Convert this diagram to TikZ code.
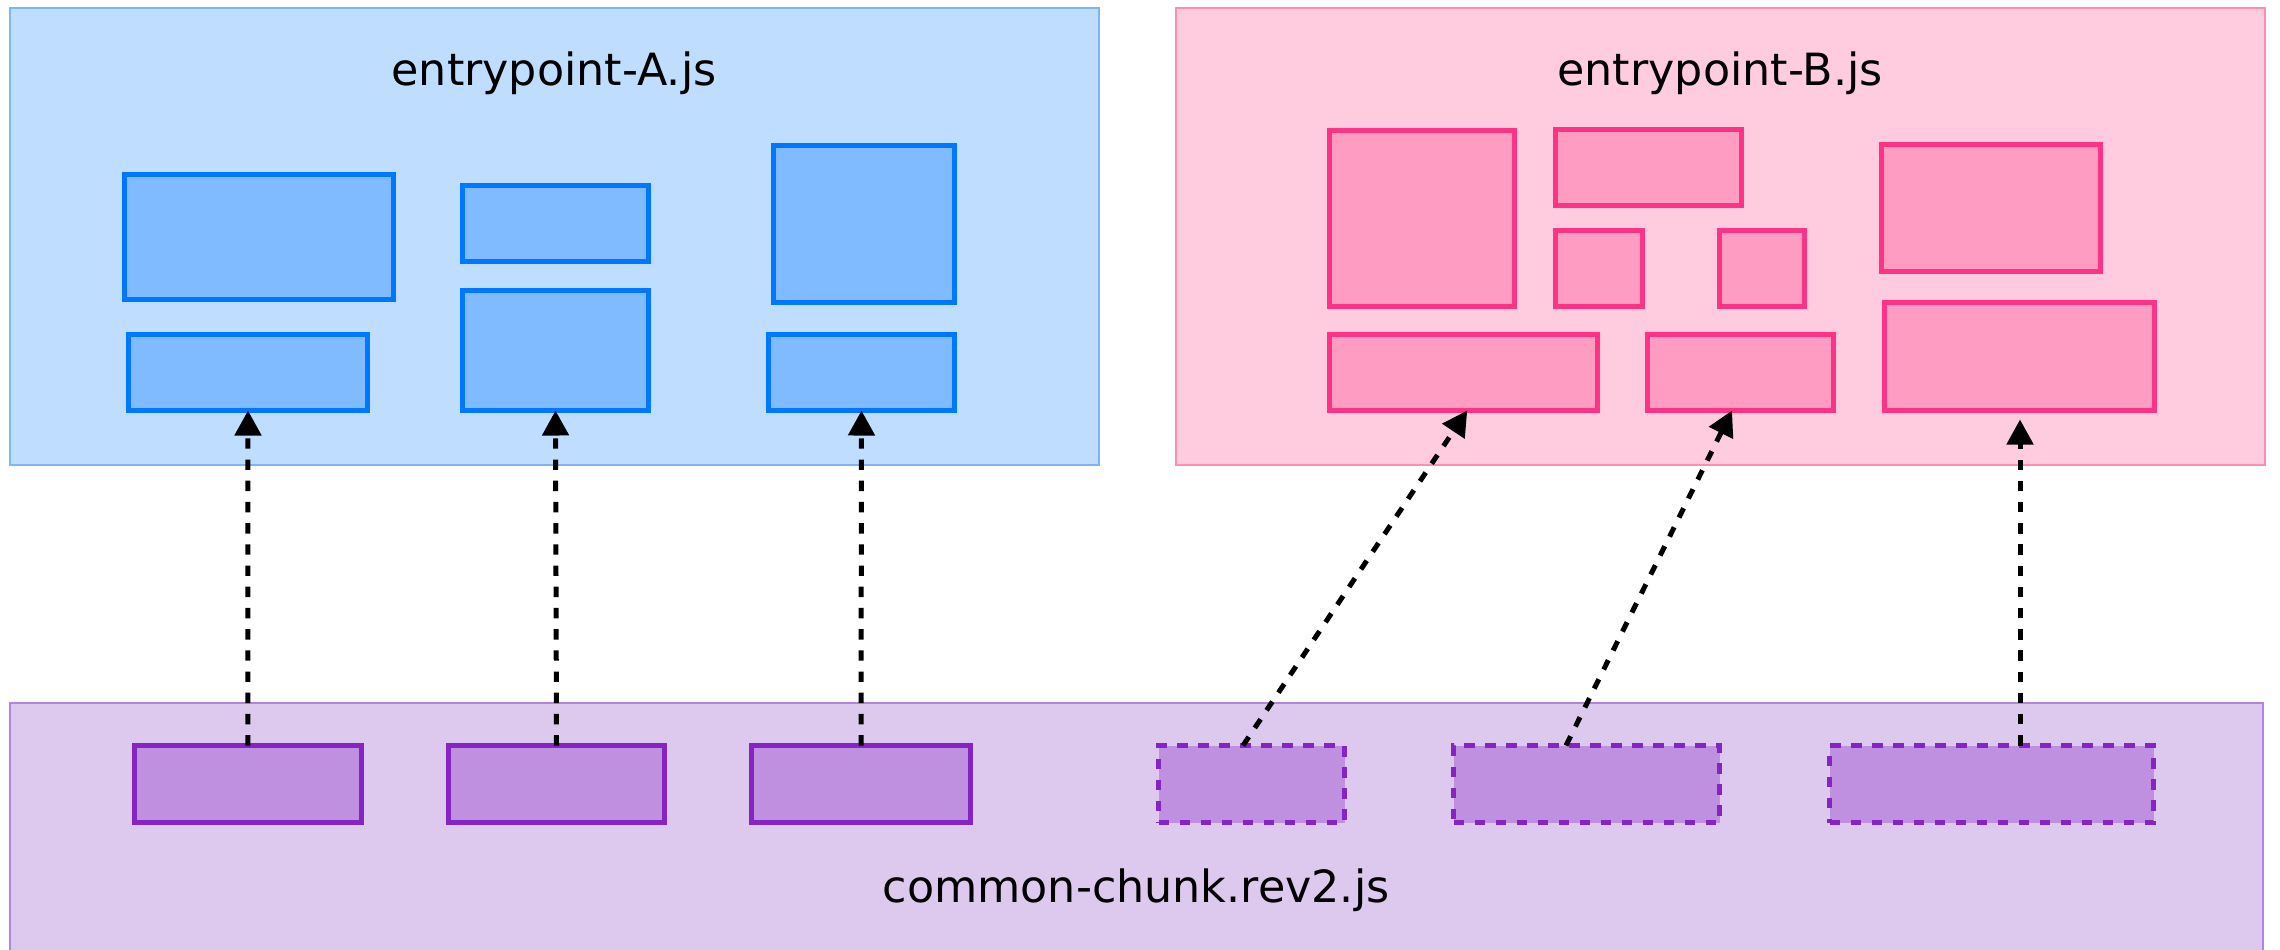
\documentclass[tikz,border=0pt]{standalone}
\usepackage{fontspec}
\setmainfont{DejaVu Sans}
\usetikzlibrary{arrows.meta,fit,calc}
\definecolor{aFill}{HTML}{BFDDFF}
\definecolor{aLine}{HTML}{7DB6F4}
\definecolor{aBoxFill}{HTML}{80BAFF}
\definecolor{aBoxLine}{HTML}{0077FF}
\definecolor{bFill}{HTML}{FFCCDF}
\definecolor{bLine}{HTML}{FF8CB5}
\definecolor{bBoxFill}{HTML}{FF9CC2}
\definecolor{bBoxLine}{HTML}{FF3385}
\definecolor{cFill}{HTML}{DDC8EE}
\definecolor{cLine}{HTML}{B483DE}
\definecolor{cBoxFill}{HTML}{C090E0}
\definecolor{cBoxLine}{HTML}{8424C2}
\begin{document}
\begin{tikzpicture}[x=0.5pt,y=-0.5pt,
  cont/.style={draw, line width=1.1pt, inner sep=0pt, outer sep=0pt},
  contA/.style={cont, fill=aFill, draw=aLine},
  contB/.style={cont, fill=bFill, draw=bLine},
  contC/.style={cont, fill=cFill, draw=cLine},
  blk/.style={draw, line width=2.5pt, inner sep=0pt, outer sep=0pt},
  blkA/.style={blk, fill=aBoxFill, draw=aBoxLine},
  blkB/.style={blk, fill=bBoxFill, draw=bBoxLine},
  blkC/.style={blk, fill=cBoxFill, draw=cBoxLine},
  blkCd/.style={blkC, dash pattern=on 5.25pt off 5.25pt},
  conn/.style={draw=black, line width=2.5pt, dash pattern=on 5.2pt off 5.4pt,
    -{Triangle[length=12.5pt,width=13pt]}},
  lbl/.style={font=\fontsize{22.2}{26}\selectfont, anchor=base, inner sep=0pt, text=black}
]
\fill[white] (0,0) rectangle (2280,949);
\useasboundingbox (0,0) rectangle (2280,949);
\clip (0,0) rectangle (2280,949);

% containers
\node[contA, fit={(10,8) (1099,465)}] (contA) {};
\node[contB, fit={(1176,8) (2265,465)}] (contB) {};
\node[contC, fit={(10,703) (2263,975)}] (contC) {};

\node[lbl] (labA) at (554,85) {entrypoint-A.js};
\node[lbl] (labB) at (1720,85) {entrypoint-B.js};
\node[lbl] (labC) at (1136,902) {common-chunk.rev2.js};

% entrypoint A blocks
\node[blkA, fit={(124.5,174.5) (393,299.5)}] (A1) {};
\node[blkA, fit={(128.5,334.5) (367.5,410.5)}] (A2) {};
\node[blkA, fit={(462.5,185.5) (648.5,261.5)}] (A3) {};
\node[blkA, fit={(462.5,290.5) (648.5,410.5)}] (A4) {};
\node[blkA, fit={(773.5,145.5) (954.5,302.5)}] (A5) {};
\node[blkA, fit={(768.5,334.5) (954.5,410.5)}] (A6) {};

% entrypoint B blocks
\node[blkB, fit={(1329.5,130.5) (1514.5,306.5)}] (B1) {};
\node[blkB, fit={(1555.5,129.5) (1741.5,205.5)}] (B2) {};
\node[blkB, fit={(1555.5,230.5) (1642.5,306.5)}] (B3) {};
\node[blkB, fit={(1719.5,230.5) (1804.5,306.5)}] (B4) {};
\node[blkB, fit={(1881.5,144.5) (2100.5,271.5)}] (B5) {};
\node[blkB, fit={(1329.5,334.5) (1597,410.5)}] (B6) {};
\node[blkB, fit={(1647.5,334.5) (1833.5,410.5)}] (B7) {};
\node[blkB, fit={(1884.5,302.5) (2154.5,410.5)}] (B8) {};

% common chunk blocks
\node[blkC, fit={(134.5,745.5) (361,822.5)}] (C1) {};
\node[blkC, fit={(448.5,745.5) (664.5,822.5)}] (C2) {};
\node[blkC, fit={(751.5,745.5) (970.5,822.5)}] (C3) {};
\node[blkCd, fit={(1158.5,745.5) (1344.5,822.5)}] (C4) {};
\node[blkCd, fit={(1453.5,745.5) (1719.5,822.5)}] (C5) {};
\node[blkCd, fit={(1829.5,745.5) (2153.5,822.5)}] (C6) {};

% connectors
\draw[conn] (C1.north) -- (A2.south);
\draw[conn] (C2.north) -- (A4.south);
\draw[conn] (C3.north) -- (A6.south);
\draw[conn] ($(C4.north)+(-8.5,0)$) -- ($(B6.south)+(4,0)$);
\draw[conn] ($(C5.north)+(-20.5,0)$) -- ($(B7.south)+(-8.5,0)$);
\draw[conn] ($(C6.north)+(28.5,0)$) -- ($(B8.south)+(0.5,9)$);
\end{tikzpicture}
\end{document}
